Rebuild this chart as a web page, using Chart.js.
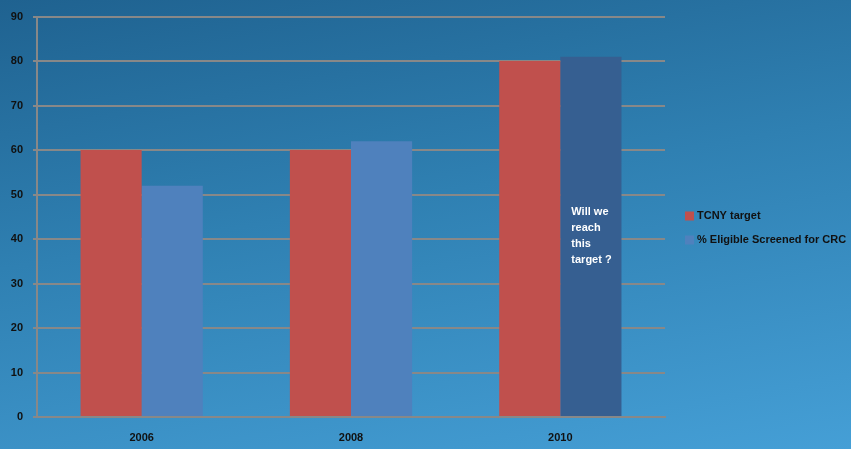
<!DOCTYPE html>
<html>
<head>
<meta charset="utf-8">
<script src="https://cdn.jsdelivr.net/npm/chart.js@4/dist/chart.umd.min.js"></script>
<style>
  html, body { margin: 0; padding: 0; }
  body {
    width: 851px; height: 449px; overflow: hidden;
    background: linear-gradient(170deg, #1f6290 0%, #2f80b2 45%, #459fd6 100%);
  }
  canvas { display: block; }
</style>
</head>
<body>
<canvas id="myChart" width="851" height="449"></canvas>
<script>
// chart data
var years = ["2006", "2008", "2010"];
var tcnyTarget = [60, 60, 80];
var screened = [52, 62, 81];
var yTicks = [0, 10, 20, 30, 40, 50, 60, 70, 80, 90];
var seriesNames = ["TCNY target", "% Eligible Screened for CRC"];
var noteLines = ["Will we", "reach", "this", "target ?"];

// custom legend on the right + note inside the last bar
var extras = {
  id: "extras",
  afterDraw: function(chart) {
    var ctx = chart.ctx;
    ctx.save();
    // legend
    var lx = 685, ly = 216;
    ctx.font = "bold 11px 'Liberation Sans', Arial, sans-serif";
    ctx.textBaseline = "middle";
    ctx.textAlign = "left";
    chart.data.datasets.forEach(function(ds, i) {
      var y = ly + i * 24;
      ctx.fillStyle = ds.legendColor;
      ctx.fillRect(lx, y - 4.5, 9, 9);
      ctx.fillStyle = "#111";
      ctx.fillText(ds.label, lx + 12, y);
    });
    // note text in 2010 bar
    var bar = chart.getDatasetMeta(1).data[2];
    ctx.fillStyle = "#ffffff";
    var tx = bar.x - bar.width / 2 + 11;
    noteLines.forEach(function(t, i) {
      ctx.fillText(t, tx, 212 + i * 16);
    });
    ctx.restore();
  }
};

new Chart(document.getElementById("myChart"), {
  type: "bar",
  data: {
    labels: years,
    datasets: [
      {
        label: seriesNames[0],
        data: tcnyTarget,
        backgroundColor: "#c0504d",
        legendColor: "#c0504d",
        categoryPercentage: 0.584,
        barPercentage: 1.0
      },
      {
        label: seriesNames[1],
        data: screened,
        backgroundColor: ["#4f81bd", "#4f81bd", "#365f91"],
        legendColor: "#4f81bd",
        categoryPercentage: 0.584,
        barPercentage: 1.0
      }
    ]
  },
  options: {
    responsive: false,
    animation: false,
    devicePixelRatio: 1,
    layout: { padding: { left: 0, right: 186, top: 14, bottom: 0 } },
    plugins: {
      legend: { display: false },
      tooltip: { enabled: false }
    },
    scales: {
      x: {
        grid: { display: false, drawTicks: false },
        border: { display: true, color: "#888888", width: 2 },
        ticks: {
          color: "#111",
          padding: 14,
          maxRotation: 0,
          autoSkip: false,
          font: { family: "'Liberation Sans', Arial, sans-serif", size: 11, weight: "bold" }
        },
        afterFit: function(scale) { scale.height = 32; }
      },
      y: {
        min: 0,
        max: 90,
        afterBuildTicks: function(scale) {
          scale.ticks = yTicks.map(function(v) { return { value: v }; });
        },
        grid: { color: "#888888", lineWidth: 2, tickLength: 4 },
        border: { display: true, color: "#888888", width: 2 },
        ticks: {
          color: "#111",
          padding: 10,
          autoSkip: false,
          font: { family: "'Liberation Sans', Arial, sans-serif", size: 11, weight: "bold" }
        },
        afterFit: function(scale) { scale.width = 37; }
      }
    }
  },
  plugins: [extras]
});
</script>
</body>
</html>
